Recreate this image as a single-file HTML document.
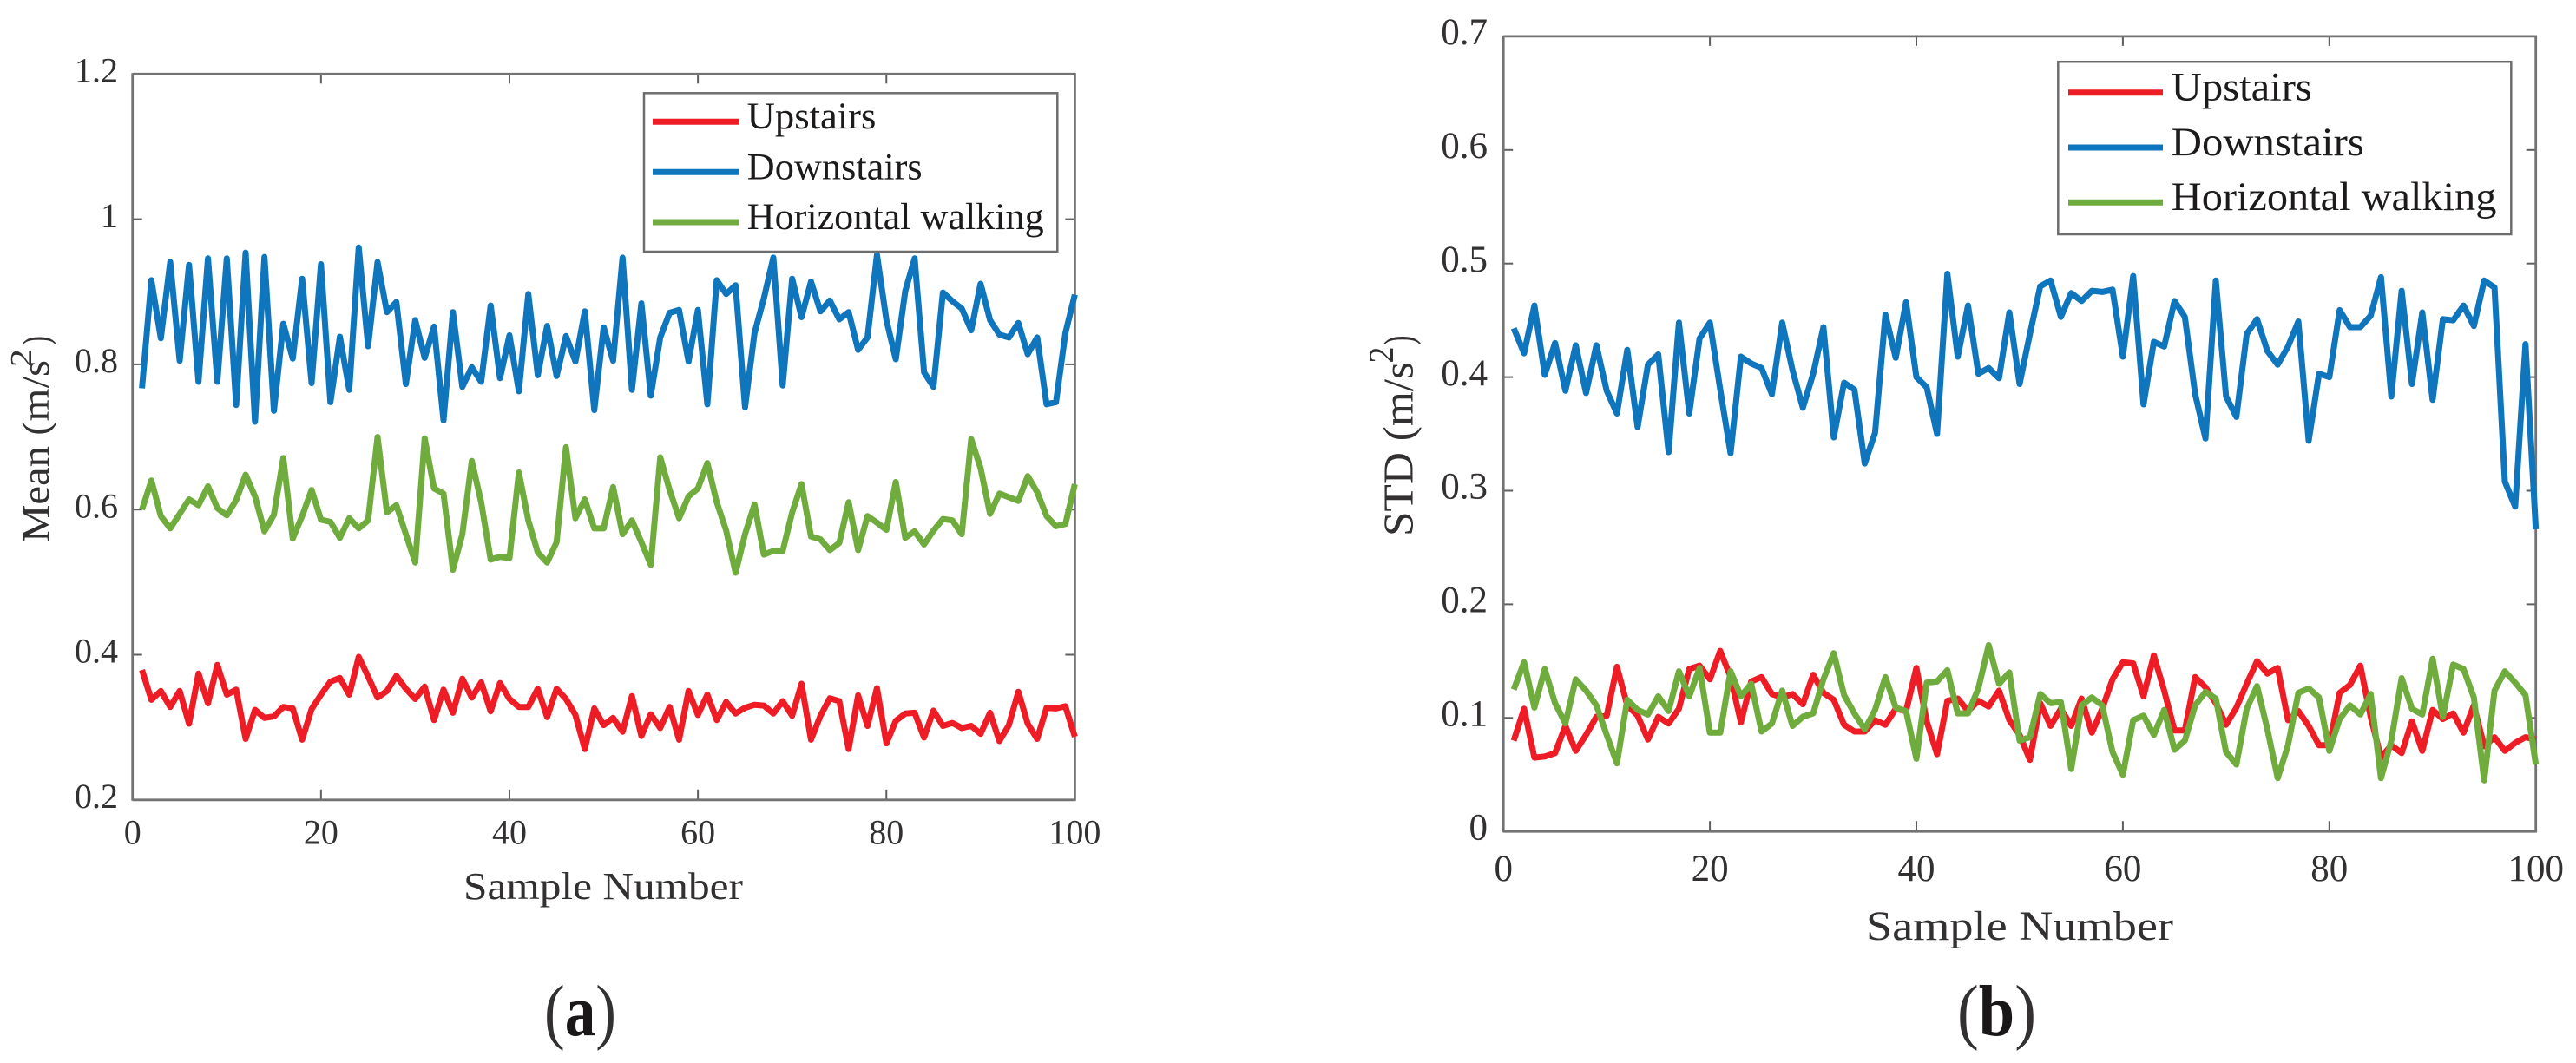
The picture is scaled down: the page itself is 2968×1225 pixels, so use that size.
<!DOCTYPE html>
<html lang="en">
<head>
<meta charset="utf-8">
<title>Mean and STD of acceleration by activity</title>
<style>
  html, body { margin: 0; padding: 0; background: #fff; }
  svg { display: block; }
  text { font-family: "Liberation Serif", serif; fill: #333031; }
</style>
</head>
<body>
<svg id="figure" xmlns="http://www.w3.org/2000/svg" width="2968" height="1225" viewBox="0 0 2968 1225">
  <rect width="2968" height="1225" fill="#ffffff"/>

  <g id="panel-a"></g>
  <g id="panel-b"></g>

  <!-- Panel a static labels -->
  <text x="534" y="1036" font-size="44" textLength="322" lengthAdjust="spacingAndGlyphs">Sample Number</text>
  <g font-size="44">
    <text transform="translate(56,625) rotate(-90)" textLength="210" lengthAdjust="spacingAndGlyphs">Mean (m/s</text>
    <text transform="translate(36,423) rotate(-90)" font-size="35" textLength="21" lengthAdjust="spacingAndGlyphs">2</text>
    <text transform="translate(56,398) rotate(-90)" textLength="11" lengthAdjust="spacingAndGlyphs">)</text>
  </g>
  <text x="627" y="1193" font-size="84" textLength="83" lengthAdjust="spacingAndGlyphs">(<tspan font-weight="bold" fill="#1a1718">a</tspan>)</text>

  <g>
    <rect x="742" y="107.3" width="476.3" height="182.7" fill="#ffffff" stroke="#6d6d6d" stroke-width="2.5"/>
    <line x1="752" x2="852" y1="140.3" y2="140.3" stroke="#ee1c25" stroke-width="7"/>
    <line x1="752" x2="852" y1="198.3" y2="198.3" stroke="#0f75bc" stroke-width="7"/>
    <line x1="752" x2="852" y1="256" y2="256" stroke="#6fac3d" stroke-width="7"/>
    <text x="860.7" y="148" font-size="43" textLength="148.7" lengthAdjust="spacingAndGlyphs" style="fill:#1c1a1b">Upstairs</text>
    <text x="860.7" y="206.7" font-size="43" textLength="202" lengthAdjust="spacingAndGlyphs" style="fill:#1c1a1b">Downstairs</text>
    <text x="860.7" y="264" font-size="43" textLength="342" lengthAdjust="spacingAndGlyphs" style="fill:#1c1a1b">Horizontal walking</text>
  </g>

  <!-- Panel b static labels -->
  <text x="2150" y="1083" font-size="48" textLength="354" lengthAdjust="spacingAndGlyphs">Sample Number</text>
  <g font-size="49">
    <text transform="translate(1627.7,618) rotate(-90)" textLength="201" lengthAdjust="spacingAndGlyphs">STD (m/s</text>
    <text transform="translate(1605,418.5) rotate(-90)" font-size="40" textLength="19" lengthAdjust="spacingAndGlyphs">2</text>
    <text transform="translate(1627.7,398) rotate(-90)" textLength="11.5" lengthAdjust="spacingAndGlyphs">)</text>
  </g>
  <text x="2255" y="1193" font-size="84" textLength="91" lengthAdjust="spacingAndGlyphs">(<tspan font-weight="bold" fill="#1a1718">b</tspan>)</text>

  <g>
    <rect x="2371.3" y="71.2" width="522" height="198.8" fill="#ffffff" stroke="#6d6d6d" stroke-width="2.5"/>
    <line x1="2383" x2="2492" y1="106.8" y2="106.8" stroke="#ee1c25" stroke-width="7"/>
    <line x1="2383" x2="2492" y1="170" y2="170" stroke="#0f75bc" stroke-width="7"/>
    <line x1="2383" x2="2492" y1="233.3" y2="233.3" stroke="#6fac3d" stroke-width="7"/>
    <text x="2501.8" y="115.5" font-size="47" textLength="162" lengthAdjust="spacingAndGlyphs" style="fill:#1c1a1b">Upstairs</text>
    <text x="2501.8" y="179" font-size="47" textLength="222" lengthAdjust="spacingAndGlyphs" style="fill:#1c1a1b">Downstairs</text>
    <text x="2501.8" y="242" font-size="47" textLength="374.6" lengthAdjust="spacingAndGlyphs" style="fill:#1c1a1b">Horizontal walking</text>
  </g>
</svg>

<script>
// ---- Data: shared x ticks ----
var sampleTicks = [0, 20, 40, 60, 80, 100];

// ---- Data: panel (a) Mean ----
var meanTicks = [0.2, 0.4, 0.6, 0.8, 1, 1.2];
var meanUpstairs = [
  .379,.338,.35,.328,.35,.305,.374,.333,.386,.345,
  .352,.284,.324,.313,.315,.328,.326,.283,.325,.345,
  .363,.368,.345,.397,.37,.341,.35,.371,.353,.339,
  .356,.31,.352,.32,.367,.341,.362,.322,.361,.339,
  .328,.328,.353,.314,.353,.339,.317,.27,.326,.303,
  .313,.294,.343,.288,.318,.299,.328,.283,.35,.317,
  .345,.31,.335,.319,.327,.331,.33,.319,.336,.316,
  .36,.283,.316,.34,.336,.27,.344,.302,.354,.278,
  .309,.319,.32,.286,.323,.302,.306,.299,.302,.291,
  .32,.281,.303,.349,.305,.284,.327,.326,.329,.287
];
var meanDownstairs = [
  .767,.916,.836,.941,.805,.937,.776,.946,.776,.946,
  .744,.954,.721,.948,.736,.856,.808,.918,.774,.938,
  .748,.838,.765,.961,.825,.941,.872,.886,.773,.861,
  .809,.852,.723,.872,.769,.796,.776,.881,.781,.84,
  .763,.897,.785,.853,.784,.839,.804,.873,.737,.851,
  .805,.947,.765,.884,.757,.837,.871,.875,.804,.875,
  .745,.916,.897,.909,.741,.843,.891,.947,.771,.918,
  .865,.914,.873,.888,.862,.872,.82,.837,.951,.861,
  .807,.901,.946,.789,.769,.899,.887,.877,.847,.911,
  .861,.841,.837,.857,.814,.837,.745,.748,.843,.896
];
var meanHorizontal = [
  .60,.64,.591,.574,.594,.614,.606,.632,.602,.592,
  .613,.648,.618,.57,.593,.671,.56,.591,.627,.586,
  .583,.561,.588,.574,.585,.70,.596,.606,.566,.527,
  .698,.629,.622,.517,.566,.667,.61,.531,.535,.533,
  .651,.585,.541,.527,.555,.686,.588,.614,.574,.574,
  .631,.566,.585,.555,.524,.672,.627,.588,.618,.629,
  .664,.61,.571,.513,.566,.607,.538,.543,.543,.596,
  .635,.563,.559,.544,.554,.61,.544,.591,.582,.572,
  .638,.561,.57,.552,.571,.587,.585,.566,.697,.657,
  .594,.622,.617,.612,.646,.624,.591,.577,.58,.635
];

// ---- Data: panel (b) STD ----
var stdTicks = [0, 0.1, 0.2, 0.3, 0.4, 0.5, 0.6, 0.7];
var stdUpstairs = [
  .08,.108,.065,.066,.069,.093,.071,.085,.101,.102,
  .145,.111,.102,.081,.101,.095,.108,.143,.146,.134,
  .159,.136,.096,.132,.136,.121,.118,.121,.112,.138,
  .122,.116,.094,.088,.088,.098,.094,.108,.106,.144,
  .097,.068,.115,.117,.106,.115,.11,.124,.098,.085,
  .063,.113,.093,.108,.093,.117,.087,.108,.134,.149,
  .148,.119,.155,.124,.089,.089,.136,.127,.113,.094,
  .109,.13,.15,.139,.144,.098,.106,.093,.076,.076,
  .122,.129,.146,.101,.065,.076,.069,.097,.071,.107,
  .099,.104,.087,.111,.075,.083,.071,.078,.083,.081
];
var stdDownstairs = [
  .443,.421,.463,.402,.43,.388,.428,.386,.428,.388,
  .368,.424,.356,.411,.42,.334,.448,.368,.434,.448,
  .389,.333,.418,.412,.408,.385,.448,.406,.373,.403,
  .444,.347,.395,.389,.324,.351,.455,.417,.466,.40,
  .391,.35,.491,.418,.463,.403,.408,.399,.457,.394,
  .438,.48,.485,.453,.474,.467,.476,.475,.477,.418,
  .489,.376,.431,.427,.467,.453,.385,.346,.485,.383,
  .365,.438,.451,.423,.411,.427,.449,.344,.403,.40,
  .459,.444,.444,.454,.488,.383,.476,.394,.457,.38,
  .451,.45,.463,.445,.485,.479,.308,.286,.429,.266
];
var stdHorizontal = [
  .125,.149,.109,.143,.113,.095,.134,.124,.111,.085,
  .06,.116,.107,.103,.119,.106,.141,.119,.144,.087,
  .087,.141,.119,.13,.088,.095,.124,.093,.101,.104,
  .134,.157,.12,.104,.09,.107,.136,.109,.106,.064,
  .131,.132,.142,.104,.104,.126,.164,.13,.14,.08,
  .083,.121,.113,.114,.055,.111,.118,.111,.07,.05,
  .098,.102,.085,.107,.072,.08,.111,.123,.117,.07,
  .059,.108,.128,.09,.047,.076,.122,.126,.118,.071,
  .099,.111,.103,.121,.047,.08,.135,.108,.103,.152,
  .101,.147,.143,.118,.045,.124,.141,.131,.12,.059
];

var SVG_NS = 'http://www.w3.org/2000/svg';

function makeEl(tag, parent) {
  var el = document.createElementNS(SVG_NS, tag);
  parent.appendChild(el);
  return el;
}

function linearScale(d0, d1, r0, r1) {
  return function (v) { return r0 + (v - d0) * (r1 - r0) / (d1 - d0); };
}

function drawLine(parent, x1, y1, x2, y2, stroke, width, name) {
  var ln = makeEl('line', parent);
  
  
  ln.setAttribute('x1', x1);
  ln.setAttribute('y1', y1);
  ln.setAttribute('x2', x2);
  ln.setAttribute('y2', y2);
  ln.setAttribute('stroke', stroke);
  ln.setAttribute('stroke-width', width);
}

function drawSeries(parent, values, x, y, color, width, name) {
  var pts = values.map(function (v, i) {
    return x(i + 1).toFixed(1) + ',' + y(v).toFixed(1);
  }).join(' ');
  var pl = makeEl('polyline', parent);
  
  
  pl.setAttribute('points', pts);
  pl.setAttribute('fill', 'none');
  pl.setAttribute('stroke', color);
  pl.setAttribute('stroke-width', width);
  pl.setAttribute('stroke-linejoin', 'round');
}

function drawAxes(parent, o) {
  var x = o.x, y = o.y;
  var L = x(0), R = x(100), T = y(o.yTicks[o.yTicks.length - 1]), B = y(o.yTicks[0]);
  var axisColor = '#737373';
  var tickColor = '#5f5f5f';

  o.xTicks.forEach(function (t) {
    var px = x(t);
    if (t !== 0 && t !== 100) {
      drawLine(parent, px, B, px, B - 12, tickColor, 2, 'x-tick-bottom-' + t);
      drawLine(parent, px, T, px, T + 11, tickColor, 2, 'x-tick-top-' + t);
    }
    var lab = makeEl('text', parent);
    
    
    lab.setAttribute('x', px);
    lab.setAttribute('y', o.xLabelY);
    lab.setAttribute('font-size', o.fontSize);
    lab.setAttribute('text-anchor', 'middle');
    lab.textContent = String(t);
  });

  o.yTicks.forEach(function (t) {
    var py = y(t);
    drawLine(parent, L, py, L + 11, py, tickColor, 2, 'y-tick-left-' + t);
    drawLine(parent, R, py, R - 11, py, tickColor, 2, 'y-tick-right-' + t);
    var lab = makeEl('text', parent);
    
    
    lab.setAttribute('x', o.yLabelX);
    lab.setAttribute('y', py + 9.2);
    lab.setAttribute('font-size', o.fontSize);
    lab.setAttribute('text-anchor', 'end');
    lab.textContent = String(t);
  });

  drawLine(parent, L, T, R + 1, T, axisColor, 2.8, 'axis-top');
  drawLine(parent, L, B, R + 1, B, axisColor, 2.8, 'axis-bottom');
  drawLine(parent, L, T - 1, L, B + 1, axisColor, 2.8, 'axis-left');
  drawLine(parent, R, T - 1, R, B + 1, axisColor, 2.8, 'axis-right');
}

// Panel (a)
var groupA = document.getElementById('panel-a');
var xA = linearScale(0, 100, 152.7, 1238.4);
var yA = linearScale(0.2, 1.2, 921.8, 85.3);
drawAxes(groupA, { x: xA, y: yA, xTicks: sampleTicks, yTicks: meanTicks, xLabelY: 972.5, yLabelX: 136, fontSize: 40 });
drawSeries(groupA, meanUpstairs, xA, yA, '#ee1c25', 7, 'series-upstairs-mean');
drawSeries(groupA, meanDownstairs, xA, yA, '#0f75bc', 7, 'series-downstairs-mean');
drawSeries(groupA, meanHorizontal, xA, yA, '#6fac3d', 7, 'series-horizontal-walking-mean');

// Panel (b)
var groupB = document.getElementById('panel-b');
var xB = linearScale(0, 100, 1732.2, 2921.7);
var yB = linearScale(0, 0.7, 958.2, 41.9);
drawAxes(groupB, { x: xB, y: yB, xTicks: sampleTicks, yTicks: stdTicks, xLabelY: 1015, yLabelX: 1714, fontSize: 43 });
drawSeries(groupB, stdUpstairs, xB, yB, '#ee1c25', 7, 'series-upstairs-std');
drawSeries(groupB, stdDownstairs, xB, yB, '#0f75bc', 7, 'series-downstairs-std');
drawSeries(groupB, stdHorizontal, xB, yB, '#6fac3d', 7, 'series-horizontal-walking-std');
</script>
</body>
</html>
